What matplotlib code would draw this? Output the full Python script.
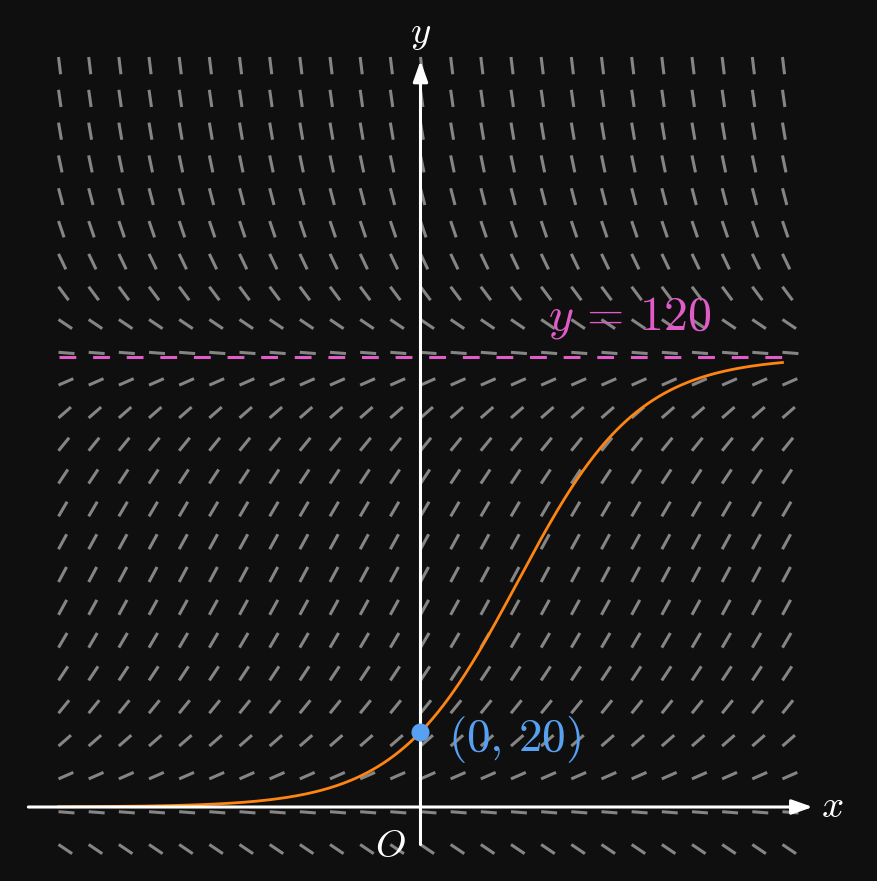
import numpy as np
import matplotlib
matplotlib.use("Agg")
import matplotlib.pyplot as plt
from matplotlib.collections import LineCollection

plt.rcParams['mathtext.fontset'] = 'cm'
plt.rcParams['font.family'] = ['DejaVu Sans']

# ---- data ----
growth_rate = 1.0          # r in dy/dx = r*y*(1 - y/K)
capacity = 120.0           # K
start_point = (0.0, 20.0)  # initial condition
grid_x = np.linspace(-6, 6, 25)
grid_y = np.linspace(-10, 200, 25)
curve_x = np.linspace(-6, 6, 400)
label_point = "$(0,\\, 20)$"
label_capacity = "$y\\,=\\,120$"

BG = '#0f0f0f'
fig = plt.figure(figsize=(8.77, 8.81), dpi=100, facecolor=BG)
ax = fig.add_axes([0, 0, 1, 1])
ax.set_facecolor(BG)
ax.set_xlim(-6.970, 7.567)
ax.set_ylim(-19.73, 215.2)
ax.axis('off')

# slope field
X, Y = np.meshgrid(grid_x, grid_y)
S = growth_rate * Y * (1 - Y / capacity)
hx = grid_x[1] - grid_x[0]
hy = grid_y[1] - grid_y[0]
u = np.ones_like(S) / hx
v = S / hy
n = np.hypot(u, v)
f = 0.53
dx = f * hx * u / n
dy = f * hy * v / n
segs = np.stack([np.stack([X, Y], -1), np.stack([X + dx, Y + dy], -1)], -2).reshape(-1, 2, 2)
lc = LineCollection(segs, colors='#858585', linewidths=2.2, capstyle='butt', zorder=1)
ax.add_collection(lc)

# carrying capacity line
ax.plot([-6, 6], [capacity, capacity], color='#e25cc9', lw=2.2,
        dashes=(5.5, 5.5), zorder=3)

# solution curve
x0, y0 = start_point
curve_y = capacity / (1 + (capacity / y0 - 1) * np.exp(-growth_rate * (curve_x - x0)))
ax.plot(curve_x, curve_y, color='#ff8512', lw=2.0, zorder=4)

# axes with arrows
arrow_kw = dict(arrowstyle='-|>,head_length=0.9,head_width=0.32', color='white',
                lw=2.2, shrinkA=0, shrinkB=0, mutation_scale=14)
ax.annotate('', xy=(6.5, 0), xytext=(-6.5, 0), arrowprops=arrow_kw, zorder=5)
ax.annotate('', xy=(0, 199), xytext=(0, -10), arrowprops=arrow_kw, zorder=5)

ax.plot([x0], [y0], 'o', color='#58a0f2', ms=13, zorder=6, mec='none')

ax.text(6.82, 0.3, '$x$', color='white', fontsize=28, ha='center', va='center')
ax.text(0.0, 206.5, '$y$', color='white', fontsize=28, ha='center', va='center')
ax.text(-0.5, -10.5, '$O$', color='white', fontsize=28, ha='center', va='center')
ax.text(0.46, 17.9, label_point, color='#58a0f2', fontsize=34, ha='left', va='center')
ax.text(2.12, 130.5, label_capacity, color='#e25cc9', fontsize=34.5, ha='left', va='center')

fig.savefig('out.png', dpi=100, facecolor=BG)
